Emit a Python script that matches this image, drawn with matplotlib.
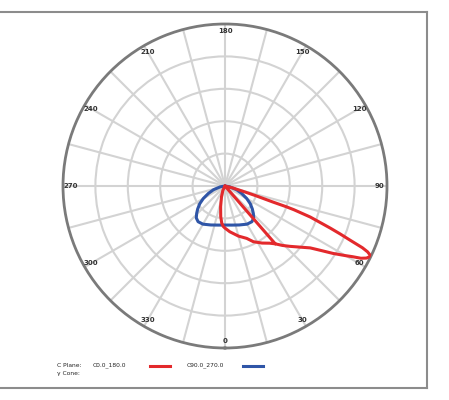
import numpy as np
import matplotlib
matplotlib.use("Agg")
import matplotlib.pyplot as plt
from matplotlib.lines import Line2D

# ---- data (angles in degrees, measured from bottom, counter-clockwise; intensity normalised) ----
red_angles = [41, 41, -35, -26, -18, -12, -8, -5, -2.4, 0, 6, 15, 22.5, 27, 33, 38, 41, 44, 47,
              51, 54, 56, 58, 60, 61, 62, 63, 64, 64.6, 65.2, 65.8, 66.6, 67.4, 68.2, 69, 70,
              71, 71.3, 71.5, 72.5, 73.5, 76, 80]
red_values = [0.473, 0.0, 0.0, 0.03, 0.07, 0.13, 0.19, 0.23, 0.25, 0.26, 0.284, 0.32, 0.35, 0.386,
              0.42, 0.448, 0.473, 0.51, 0.546, 0.60, 0.65, 0.71, 0.785, 0.86, 0.90, 0.95, 0.98,
              0.995, 0.99, 0.97, 0.93, 0.84, 0.77, 0.70, 0.63, 0.56, 0.45, 0.40, 0.31, 0.20, 0.12,
              0.05, 0.0]

blue_half_angles = [0, 10, 20, 30, 37, 42, 46, 50, 55, 60, 66, 72, 80, 88]
blue_half_values = [0.241, 0.245, 0.256, 0.272, 0.276, 0.265, 0.243, 0.22, 0.19, 0.155, 0.112,
                    0.075, 0.03, 0.0]

angle_labels = [0, 30, 60, 90, 120, 150, 180, 210, 240, 270, 300, 330]
ring_values = [0.2, 0.4, 0.6, 0.8]

legend_plane_label = "C Plane:"
legend_cone_label = "\u03b3 Cone:"
series_names = ["C0.0_180.0", "C90.0_270.0"]
red_color = "#e3292c"
blue_color = "#2f55a7"

# ---- figure ----
W, H = 449, 400
fig = plt.figure(figsize=(W / 100, H / 100), dpi=100)
fig.patch.set_facecolor("white")

cx, cy, R = 225, 186, 162
ax = fig.add_axes([(cx - R) / W, (H - cy - R) / H, 2 * R / W, 2 * R / H], projection="polar")
ax.set_theta_zero_location("S")
ax.set_theta_direction(1)
ax.set_ylim(0, 1)
ax.set_yticks(ring_values)
ax.set_yticklabels([])
ax.set_xticks(np.deg2rad(np.arange(0, 360, 15)))
ax.set_xticklabels([])
ax.grid(True, color="#d3d3d3", linewidth=1.5)
ax.spines["polar"].set_color("#7a7a7a")
ax.spines["polar"].set_linewidth(2.0)
ax.tick_params(length=0)

for a in angle_labels:
    ax.text(np.deg2rad(a), 0.955, str(a), fontsize=5, fontweight="bold", color="#333333",
            ha="center", va="center")

# red curve
ax.plot(np.deg2rad(red_angles), red_values, color=red_color, linewidth=2.2,
        solid_joinstyle="round", solid_capstyle="round", zorder=4)

# blue curve (symmetric)
ba = np.array(blue_half_angles, dtype=float)
bv = np.array(blue_half_values, dtype=float)
blue_angles = np.concatenate([-ba[::-1], ba[1:]])
blue_values = np.concatenate([bv[::-1], bv[1:]])
ax.plot(np.deg2rad(blue_angles), blue_values, color=blue_color, linewidth=2.2,
        solid_joinstyle="round", solid_capstyle="round", zorder=3)

# ---- frame lines ----
frame_color = "#8c8c8c"
def px(x, y):
    return x / W, 1 - y / H
fig.add_artist(Line2D([0, 427 / W], [1 - 12 / H, 1 - 12 / H], color=frame_color, lw=1.5,
                      transform=fig.transFigure))
fig.add_artist(Line2D([0, 427 / W], [1 - 387.5 / H, 1 - 387.5 / H], color=frame_color, lw=1.5,
                      transform=fig.transFigure))
fig.add_artist(Line2D([427 / W, 427 / W], [1 - 12 / H, 1 - 387.5 / H], color=frame_color, lw=1.5,
                      transform=fig.transFigure))

# ---- legend ----
fs = 4.3
fig.text(*px(57, 365.5), legend_plane_label, fontsize=fs, ha="left", va="center", color="#222222")
fig.text(*px(57, 374), legend_cone_label, fontsize=fs, ha="left", va="center", color="#222222")
fig.text(*px(93, 365.5), series_names[0], fontsize=fs, ha="left", va="center", color="#222222")
fig.text(*px(187, 365.5), series_names[1], fontsize=fs, ha="left", va="center", color="#222222")
fig.add_artist(Line2D([150 / W, 170 / W], [1 - 366 / H, 1 - 366 / H], color=red_color, lw=2.2,
                      transform=fig.transFigure))
fig.add_artist(Line2D([243 / W, 263 / W], [1 - 366 / H, 1 - 366 / H], color=blue_color, lw=2.2,
                      transform=fig.transFigure))

fig.savefig("out.png", dpi=100, facecolor="white")
